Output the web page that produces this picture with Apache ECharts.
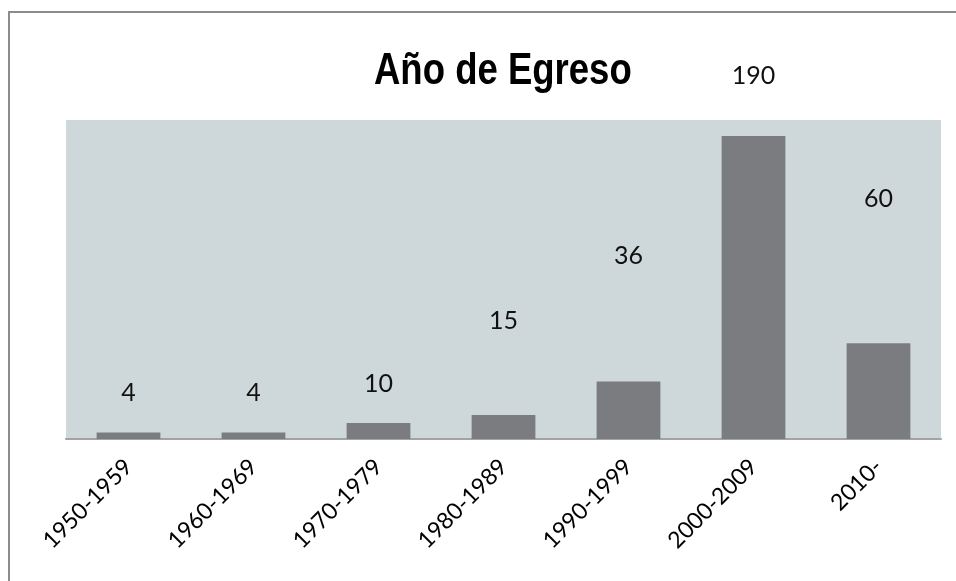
<!DOCTYPE html>
<html>
<head>
<meta charset="utf-8">
<script src="https://cdn.jsdelivr.net/npm/echarts@6/dist/echarts.min.js"></script>
<style>
  html, body { margin: 0; padding: 0; background: #fff; }
  #chart { width: 956px; height: 581px; }
</style>
</head>
<body>
<div id="chart"></div>
<script>
// datos
const categorias = ['1950-1959', '1960-1969', '1970-1979', '1980-1989', '1990-1999', '2000-2009', '2010-'];
const egresados = [4, 4, 10, 15, 36, 190, 60];
// altura (px sobre la base) donde cae el centro de cada etiqueta en el original
const alturaEtiqueta = [47, 47, 56, 119, 184, 364, 241];

const myChart = echarts.init(document.getElementById('chart'));

const option = {
  animation: false,
  backgroundColor: '#fff',
  graphic: [
    {
      type: 'rect',
      shape: { x: 9, y: 12, width: 960, height: 600 },
      style: { fill: 'none', stroke: '#8c8c8c', lineWidth: 2 },
      z: -1
    },
    {
      // titulo (fuente estrecha simulada)
      type: 'text',
      x: 374,
      y: 50,
      scaleX: 0.83,
      style: {
        text: 'Año de Egreso',
        fontFamily: 'Liberation Sans',
        fontWeight: 'bold',
        fontSize: 44,
        fill: '#000'
      }
    }
  ],
  grid: {
    left: 66,
    top: 120,
    right: 15,
    bottom: 142,
    show: true,
    backgroundColor: '#ced8db',
    borderWidth: 0
  },
  xAxis: {
    type: 'category',
    data: categorias,
    axisLine: { lineStyle: { color: '#a3a3a3', width: 2 } },
    axisTick: { show: false },
    axisLabel: {
      rotate: 45,
      margin: 24,
      fontFamily: 'Lato',
      fontSize: 23,
      color: '#000'
    }
  },
  yAxis: {
    type: 'value',
    min: 0,
    max: 200,
    show: false,
    splitLine: { show: false }
  },
  series: [
    {
      type: 'bar',
      barWidth: '51%',
      itemStyle: { color: '#7b7c80' },
      data: egresados.map((v, i) => ({
        value: v,
        label: { offset: [0, -(alturaEtiqueta[i] - 18)] }
      })),
      label: {
        show: true,
        position: 'insideBottom',
        distance: 5,
        fontFamily: 'Lato',
        fontSize: 25,
        color: '#111'
      }
    }
  ]
};

myChart.setOption(option);
window.addEventListener('resize', () => {
  myChart.resize();
});
</script>
</body>
</html>
